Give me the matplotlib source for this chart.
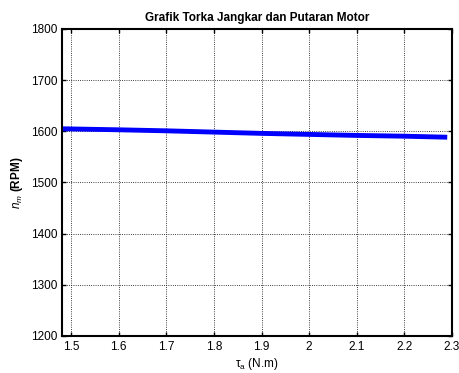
import numpy as np
import matplotlib
matplotlib.use('Agg')
import matplotlib.pyplot as plt

plt.rcParams.update({
    'font.family': ['Liberation Sans', 'DejaVu Sans'],
    'font.size': 8.5,
    'mathtext.fontset': 'custom',
    'mathtext.rm': 'Liberation Sans',
    'mathtext.it': 'Liberation Sans:italic',
    'mathtext.bf': 'Liberation Sans:bold',
})

# torque (N.m) vs motor speed (RPM)
torque = [1.48, 1.6, 1.7, 1.8, 1.9, 2.0, 2.1, 2.2, 2.29]
speed = [1605, 1603, 1601, 1598.5, 1596, 1594, 1592, 1590.5, 1588.5]

x_ticks = [1.5, 1.6, 1.7, 1.8, 1.9, 2.0, 2.1, 2.2, 2.3]
x_labels = ['1.5', '1.6', '1.7', '1.8', '1.9', '2', '2.1', '2.2', '2.3']
y_ticks = [1200, 1300, 1400, 1500, 1600, 1700, 1800]

fig = plt.figure(figsize=(4.59, 3.73), dpi=100)
ax = fig.add_axes([62 / 459, 1 - 336 / 373, 390 / 459, 307 / 373])

ax.plot(torque, speed, color='#0000ff', linewidth=3.5, solid_capstyle='butt')

ax.set_xlim(1.481, 2.3)
ax.set_ylim(1200, 1800)
ax.set_xticks(x_ticks)
ax.set_xticklabels(x_labels)
ax.set_yticks(y_ticks)
ax.grid(True, color='black', linestyle=':', linewidth=0.6)
ax.tick_params(direction='in', top=True, right=True, length=3, width=1, labelsize=8.5)
for s in ax.spines.values():
    s.set_linewidth(1.5)

ax.set_title('Grafik Torka Jangkar dan Putaran Motor', fontsize=8.5, fontweight='bold', pad=6)
ax.set_xlabel(r'$\mathrm{\tau}_{\mathrm{a}}$ (N.m)', fontsize=8.5, labelpad=2)
ax.set_ylabel(r'$n_m$ (RPM)', fontsize=8.5, fontweight='bold', labelpad=4)

fig.savefig('out.png', dpi=100, facecolor='white')
